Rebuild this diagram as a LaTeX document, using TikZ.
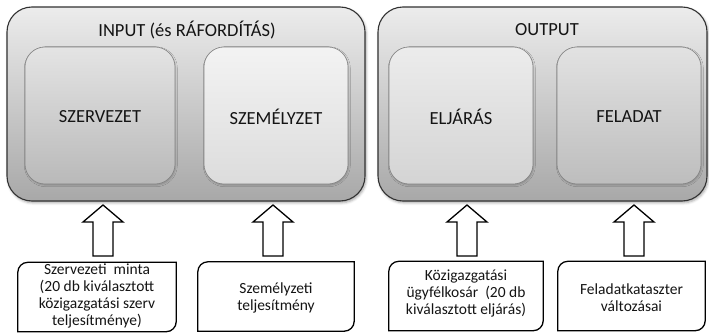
\documentclass[tikz,border=0pt]{standalone}
\usepackage{fontspec}
\setmainfont{Carlito}
\usetikzlibrary{shadows.blur,calc}

\definecolor{outertop}{RGB}{236,236,236}
\definecolor{outerbot}{RGB}{168,168,168}
\definecolor{outerline}{RGB}{50,50,50}
\definecolor{innerline}{RGB}{130,130,130}
\definecolor{txt}{RGB}{20,20,20}

\begin{document}
\begin{tikzpicture}[x=1pt,y=1pt,
  outerbox/.style={draw=outerline, line width=1.1pt, rounded corners=25pt,
    top color=outertop, bottom color=outerbot,
    minimum height=194pt, inner sep=0pt,
    blur shadow={shadow xshift=1.2pt, shadow yshift=-1.8pt, shadow opacity=35, shadow blur radius=2.5pt}},
  innerbox/.style={draw=innerline, line width=0.6pt, rounded corners=20pt,
    minimum width=#1, minimum height=137pt, inner sep=0pt,
    blur shadow={shadow xshift=0.8pt, shadow yshift=-1.2pt, shadow opacity=20, shadow blur radius=1.5pt}},
  titletext/.style={font=\fontsize{18.5}{22}\selectfont, text=txt},
  boxlabel/.style={font=\fontsize{18.5}{22}\selectfont, text=txt},
  sourcebox/.style={minimum height=69pt, inner sep=0pt, align=center,
    font=\fontsize{15.5}{17}\selectfont, text=txt},
  sourceframe/.style={draw=black, line width=1.3pt},
  blockarrow/.style={draw=black, line width=1.3pt, fill=white, line join=miter}
]
\useasboundingbox (0,0) rectangle (709,333);

% Outer groups
\node[outerbox, minimum width=358pt] (inL) at (186,229) {};
\node[outerbox, minimum width=329pt] (outR) at (542.5,229) {};
\node[titletext] (inTitle) at (187,303) {INPUT (és RÁFORDÍTÁS)};
\node[titletext] (outTitle) at (547,303) {OUTPUT};

% Inner elements
\node[innerbox=150pt, top color={rgb,255:red,228;green,228;blue,228}, bottom color={rgb,255:red,185;green,185;blue,185}] (szerv) at (100,217.5) {};
\node[innerbox=144pt, top color={rgb,255:red,243;green,243;blue,243}, bottom color={rgb,255:red,220;green,220;blue,220}] (szemely) at (276,217.5) {};
\node[innerbox=144pt, top color={rgb,255:red,236;green,236;blue,236}, bottom color={rgb,255:red,212;green,212;blue,212}] (eljaras) at (461,217.5) {};
\node[innerbox=144pt, top color={rgb,255:red,226;green,226;blue,226}, bottom color={rgb,255:red,189;green,189;blue,189}] (feladat) at (629,217.5) {};

\node[boxlabel] at ([yshift=-1pt]szerv) {SZERVEZET};
\node[boxlabel] at ([yshift=-1pt]szemely) {SZEMÉLYZET};
\node[boxlabel] at ([yshift=-1pt]eljaras) {ELJÁRÁS};
\node[boxlabel] at ([yshift=-1pt]feladat) {FELADAT};

% Source boxes
\node[sourcebox, minimum width=158pt] (b1) at (97,36) {};
\node[sourcebox, minimum width=156pt] (b2) at (276,36.5) {};
\node[sourcebox, minimum width=154pt] (b3) at (466,37) {};
\node[sourcebox, minimum width=147pt] (b4) at (631.5,37) {};

\foreach \b in {b1,b2,b3,b4}{
  \draw[sourceframe] (\b.south west) -- ([yshift=-10pt]\b.north west)
    arc[start angle=180, end angle=90, radius=10pt] -- (\b.north east)
    -- ([yshift=10pt]\b.south east)
    arc[start angle=0, end angle=-90, radius=10pt] -- cycle;
}

\node[sourcebox] (t1) at (97,37.5) {Szervezeti\ \ minta\\(20 db kiválasztott\\közigazgatási szerv\\teljesítménye)};
\node[sourcebox] (t2) at (276,35) {Személyzeti\\teljesítmény};
\node[sourcebox] (t3) at (466,40) {Közigazgatási\\ügyfélkosár\ \ (20 db\\kiválasztott eljárás)};
\node[sourcebox] (t4) at (631.5,35) {Feladatkataszter\\változásai};

% Block arrows from the sources up to the groups
\coordinate (a1) at (103,77);
\coordinate (a2) at (273,77);
\coordinate (a3) at (467,77);
\coordinate (a4) at (634,77);
\foreach \a in {a1,a2,a3,a4}{
  \draw[blockarrow] (\a) ++(-10,0) -- ++(0,34) -- ++(-10,0) -- ++(20,17)
    -- ++(20,-17) -- ++(-10,0) -- ++(0,-34) -- cycle;
}
\end{tikzpicture}
\end{document}
